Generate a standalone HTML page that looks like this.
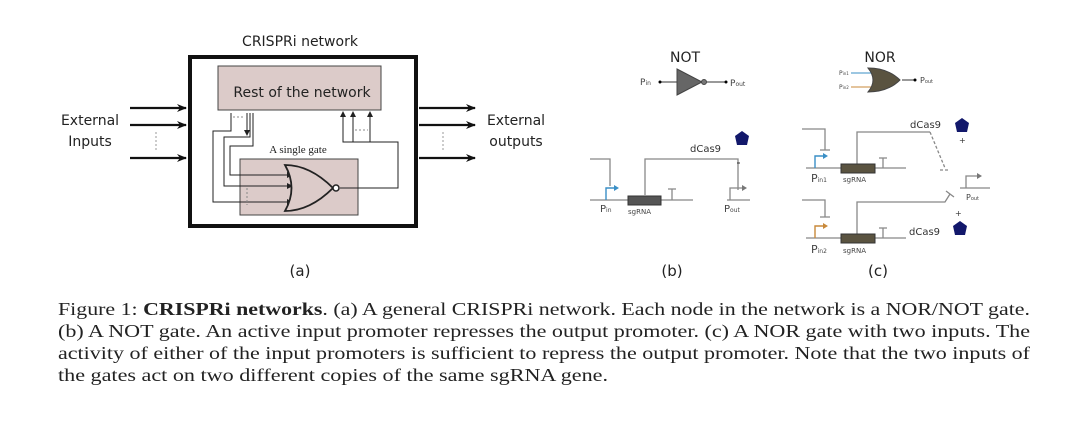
<!DOCTYPE html>
<html><head><meta charset="utf-8"><style>
body{margin:0;background:#fff;}
svg text{font-family:"DejaVu Sans","Liberation Sans",sans-serif;}
svg text.cap{font-family:"Liberation Serif","Times New Roman",serif;font-size:18px;fill:#222;}
</style></head><body>
<svg width="1080" height="441" viewBox="0 0 1080 441" xmlns="http://www.w3.org/2000/svg">
<defs>
<marker id="ah" markerWidth="10" markerHeight="8" refX="9" refY="4" orient="auto" markerUnits="userSpaceOnUse"><path d="M0,0 L10,4 L0,8 L3,4z" fill="#111"/></marker>
<marker id="as" markerWidth="6" markerHeight="6" refX="5" refY="3" orient="auto" markerUnits="userSpaceOnUse"><path d="M0,0 L6,3 L0,6z" fill="#222"/></marker>
</defs>
<!-- panel a -->
<text x="300" y="46" font-size="14" text-anchor="middle" fill="#222">CRISPRi network</text>
<rect x="190" y="57" width="226" height="169" fill="#fff" stroke="#111" stroke-width="4"/>
<rect x="218" y="66" width="163" height="44" fill="#dccbc9" stroke="#444" stroke-width="1"/>
<text x="302" y="97" font-size="14" text-anchor="middle" fill="#222">Rest of the network</text>
<rect x="240" y="159" width="118" height="56" fill="#dccbc9" stroke="#444" stroke-width="1"/>
<text x="298" y="153" font-size="11" text-anchor="middle" fill="#222" style="font-family:'Liberation Serif',serif">A single gate</text>
<g fill="none" stroke="#222" stroke-width="1">
<path d="M231,113 V131 H213 V202 H292" marker-end="url(#as)"/>
<path d="M250,113 V137 H224 V186 H292" marker-end="url(#as)"/>
<path d="M253,113 V146 H230 V175 H292" marker-end="url(#as)"/>
<path d="M247,113 V135" marker-end="url(#as)"/>
<path d="M340,188 H398 V142 H343 V112" marker-end="url(#as)"/>
<path d="M353,142 V112" marker-end="url(#as)"/>
<path d="M370,142 V112" marker-end="url(#as)"/>
<path d="M233,117 H245 M355,130 H368 M247,188 V205" stroke-dasharray="2,2" stroke="#888"/>
<path d="M285,165 Q310,165 333,188 Q310,211 285,211 Q298,188 285,165z" fill="#dccbc9" stroke="#222" stroke-width="1.8"/>
<circle cx="336" cy="188" r="3" fill="#fff" stroke="#222" stroke-width="1.5"/>
</g>
<g stroke="#111" stroke-width="2.2" fill="none">
<path d="M130,108 H186" marker-end="url(#ah)"/>
<path d="M130,125 H186" marker-end="url(#ah)"/>
<path d="M130,158 H186" marker-end="url(#ah)"/>
<path d="M419,108 H475" marker-end="url(#ah)"/>
<path d="M419,125 H475" marker-end="url(#ah)"/>
<path d="M419,158 H475" marker-end="url(#ah)"/>
</g>
<path d="M156,132 V152 M443,132 V152" stroke="#999" stroke-dasharray="2,2"/>
<text x="90" y="125" font-size="14" text-anchor="middle" fill="#222">External</text>
<text x="90" y="146" font-size="14" text-anchor="middle" fill="#222">Inputs</text>
<text x="516" y="125" font-size="14" text-anchor="middle" fill="#222">External</text>
<text x="516" y="146" font-size="14" text-anchor="middle" fill="#222">outputs</text>
<text x="300" y="276" font-size="15" text-anchor="middle" fill="#222">(a)</text>
<!-- panel b -->
<text x="685" y="62" font-size="14" text-anchor="middle" fill="#222">NOT</text>
<text x="640" y="85" font-size="9" fill="#444">P<tspan font-size="6">in</tspan></text>
<path d="M660,82 H677 M706,82 H726" stroke="#333"/>
<circle cx="660" cy="82" r="1.5"/><circle cx="726" cy="82" r="1.5"/>
<path d="M677,69 L702,82 L677,95z" fill="#666" stroke="#444"/>
<circle cx="704" cy="82" r="2.5" fill="#777" stroke="#444"/>
<text x="730" y="86" font-size="9" fill="#444">P<tspan font-size="6">out</tspan></text>
<g stroke="#888" fill="none" stroke-width="1.3">
<path d="M590,200 H693 M727,200 H750"/>
<path d="M590,159 H610 V186"/>
<path d="M645,195 V159 H738 V190"/>
<path d="M672,200 V189 M668,189 H676"/>
<path d="M730,200 V188 H742"/>
</g>
<path d="M606,200 V188 H615" stroke="#3a8fc6" stroke-width="1.4" fill="none"/>
<path d="M614,185 L619,188 L614,191z" fill="#3a8fc6"/>
<path d="M742,185 L747,188 L742,191z" fill="#777"/>
<rect x="628" y="196" width="33" height="9" fill="#555" stroke="#333"/>
<text x="600" y="212" font-size="10" fill="#444">P<tspan font-size="6">in</tspan></text>
<text x="628" y="214" font-size="7" fill="#444">sgRNA</text>
<text x="724" y="212" font-size="10" fill="#444">P<tspan font-size="6">out</tspan></text>
<text x="690" y="152" font-size="10" fill="#333">dCas9</text>
<path d="M737,163 H740" stroke="#333"/>
<path d="M742,131 L749,136 L747,145 L737,145 L735,136z" fill="#12186b"/>
<text x="672" y="276" font-size="15" text-anchor="middle" fill="#222">(b)</text>
<!-- panel c -->
<text x="880" y="62" font-size="14" text-anchor="middle" fill="#222">NOR</text>
<text x="839" y="75" font-size="6" fill="#444">P<tspan font-size="4">in1</tspan></text>
<text x="839" y="89" font-size="6" fill="#444">P<tspan font-size="4">in2</tspan></text>
<path d="M851,73 H872" stroke="#3a8fc6"/><path d="M851,87 H872" stroke="#c8893a"/>
<path d="M868,68 Q888,68 900,80 Q888,92 868,92 Q878,80 868,68z" fill="#5a5340" stroke="#444"/>
<path d="M902,80 H915" stroke="#333"/><circle cx="915" cy="80" r="1.5"/>
<text x="920" y="83" font-size="8" fill="#444">P<tspan font-size="5">out</tspan></text>
<g stroke="#888" fill="none" stroke-width="1.3">
<path d="M806,168 H906 M806,238 H906 M960,188 H990"/>
<path d="M802,129 H825 V150 M820,150 H830"/>
<path d="M802,200 H825 V217 M820,217 H830"/>
<path d="M857,164 V132 H930"/>
<path d="M930,132 L945,168 M940,170 H950" stroke-dasharray="3,2"/>
<path d="M857,234 V202 H945 L950,194 M946,191 L954,197"/>
<path d="M883,168 V158 M879,158 H887 M883,238 V228 M879,228 H887"/>
<path d="M966,188 V176 H978"/>
</g>
<path d="M977,173 L982,176 L977,179z" fill="#777"/>
<path d="M815,168 V156 H824" stroke="#3a8fc6" stroke-width="1.4" fill="none"/>
<path d="M823,153 L828,156 L823,159z" fill="#3a8fc6"/>
<path d="M815,238 V226 H824" stroke="#c8893a" stroke-width="1.4" fill="none"/>
<path d="M823,223 L828,226 L823,229z" fill="#c8893a"/>
<rect x="841" y="164" width="34" height="9" fill="#5a5340" stroke="#333"/>
<rect x="841" y="234" width="34" height="9" fill="#5a5340" stroke="#333"/>
<text x="811" y="182" font-size="11" fill="#444">P<tspan font-size="6">in1</tspan></text>
<text x="843" y="182" font-size="7" fill="#444">sgRNA</text>
<text x="811" y="253" font-size="11" fill="#444">P<tspan font-size="6">in2</tspan></text>
<text x="843" y="253" font-size="7" fill="#444">sgRNA</text>
<text x="910" y="128" font-size="10" fill="#333">dCas9</text>
<text x="909" y="235" font-size="10" fill="#333">dCas9</text>
<text x="959" y="143" font-size="8" fill="#333">+</text>
<text x="955" y="216" font-size="8" fill="#333">+</text>
<text x="966" y="200" font-size="8" fill="#444">P<tspan font-size="5">out</tspan></text>
<path d="M962,118 L969,123 L967,132 L957,132 L955,123z" fill="#12186b"/>
<path d="M960,221 L967,226 L965,235 L955,235 L953,226z" fill="#12186b"/>
<text x="878" y="276" font-size="15" text-anchor="middle" fill="#222">(c)</text>
<!-- caption -->
<text class="cap" x="58" y="315" textLength="972" lengthAdjust="spacingAndGlyphs">Figure 1: <tspan font-weight="bold">CRISPRi networks</tspan>. (a) A general CRISPRi network. Each node in the network is a NOR/NOT gate.</text>
<text class="cap" x="58" y="337" textLength="972" lengthAdjust="spacingAndGlyphs">(b) A NOT gate. An active input promoter represses the output promoter. (c) A NOR gate with two inputs. The</text>
<text class="cap" x="58" y="359" textLength="972" lengthAdjust="spacingAndGlyphs">activity of either of the input promoters is sufficient to repress the output promoter. Note that the two inputs of</text>
<text class="cap" x="58" y="381" textLength="550" lengthAdjust="spacingAndGlyphs">the gates act on two different copies of the same sgRNA gene.</text>
</svg>
</body></html>
